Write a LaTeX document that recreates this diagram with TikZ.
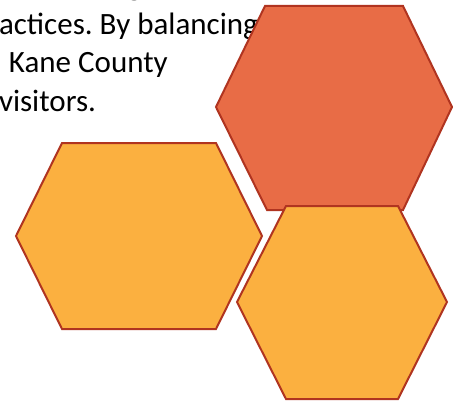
\documentclass[tikz,border=0pt]{standalone}
\usepackage{fontspec}
\setmainfont{Carlito}
\frenchspacing
\definecolor{hexedge}{RGB}{176,52,32}
\definecolor{hexred}{RGB}{232,108,70}
\definecolor{hexgold}{RGB}{251,176,64}
\tikzset{
  bodytext/.style={anchor=base west, inner sep=0pt, outer sep=0pt,
    font=\fontsize{31}{38}\selectfont, text=black},
  hexshape/.style={draw=hexedge, line width=2pt, line join=miter},
}
\begin{document}
\begin{tikzpicture}[x=1pt,y=-1pt]
  \useasboundingbox (0,0) rectangle (453,404);
  \clip (0,0) rectangle (453,404);
  \fill[white] (0,0) rectangle (453,404);
  % running paragraph behind the shapes
  \node[bodytext] (l1) at (39,-4) {party again, and};
  \node[bodytext] (l2) at (-1,35) {actices. By balancing};
  \node[bodytext] (l3) at (9,73) {Kane County};
  \node[bodytext] (l4) at (-1,112) {visitors.};
  % left hexagon
  \path[hexshape, fill=hexgold] (62,143) -- (216,143) -- (262,236) -- (216,329)
    -- (62,329) -- (16,236) -- cycle;
  % upper hexagon
  \path[hexshape, fill=hexred] (265,6) -- (403,6) -- (452,107) -- (403,210)
    -- (267,210) -- (216,107) -- cycle;
  % lower right hexagon
  \path[hexshape, fill=hexgold] (286,206) -- (398,206) -- (447,302) -- (398,399)
    -- (286,399) -- (237,302) -- cycle;
\end{tikzpicture}
\end{document}
